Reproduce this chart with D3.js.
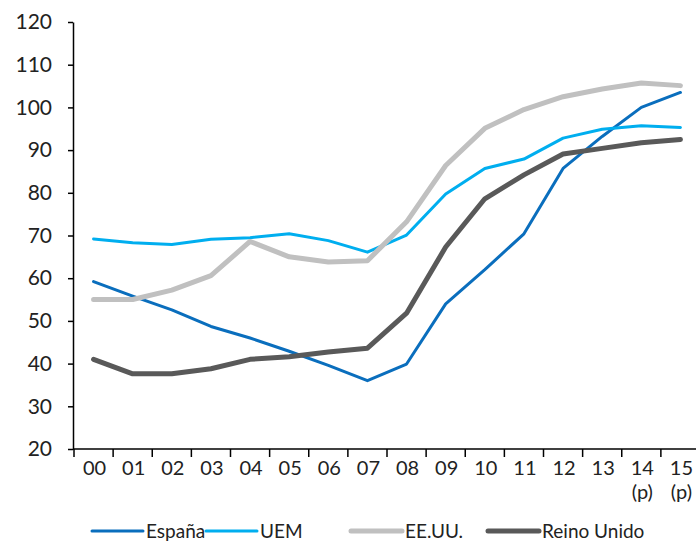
<!DOCTYPE html>
<html>
<head>
<meta charset="utf-8">
<script src="https://cdn.jsdelivr.net/npm/d3@7"></script>
<style>
  body { margin: 0; background: #fff; }
  svg text { font-family: Lato, "Open Sans", sans-serif; font-weight: 400; fill: #222; }
  .axis path, .axis line { stroke: #000; stroke-width: 1.5px; }
</style>
</head>
<body>
<div id="chart"></div>
<script>
var years = ['00','01','02','03','04','05','06','07','08','09','10','11','12','13','14','15'];
var yearNotes = ['','','','','','','','','','','','','','','(p)','(p)'];
var yTicks = [20, 30, 40, 50, 60, 70, 80, 90, 100, 110, 120];

var espana = [59.2, 55.8, 52.6, 48.7, 46.0, 42.9, 39.6, 36.0, 39.9, 54.0, 62.0, 70.4, 85.7, 93.2, 100.0, 103.5];
var uem = [69.2, 68.3, 67.9, 69.1, 69.5, 70.4, 68.8, 66.1, 70.1, 79.7, 85.7, 87.9, 92.8, 94.9, 95.7, 95.3];
var eeuu = [55.0, 55.0, 57.2, 60.6, 68.6, 65.0, 63.8, 64.1, 73.2, 86.4, 95.1, 99.5, 102.5, 104.3, 105.7, 105.1];
var reino = [41.0, 37.6, 37.6, 38.8, 41.0, 41.6, 42.7, 43.6, 51.8, 67.3, 78.6, 84.2, 89.1, 90.4, 91.7, 92.5];

var series = [
  { name: 'España', values: espana, color: '#0a6ebd', width: 3 },
  { name: 'UEM', values: uem, color: '#00aeef', width: 3 },
  { name: 'EE.UU.', values: eeuu, color: '#c0c0c0', width: 5 },
  { name: 'Reino Unido', values: reino, color: '#595959', width: 5 }
];

var svg = d3.select('#chart').append('svg')
  .attr('width', 696)
  .attr('height', 547);

var x = d3.scaleBand().domain(years).range([74, 700]).padding(0);
var y = d3.scaleLinear().domain([20, 120]).range([449, 22]);

// y axis
var yAxis = d3.axisLeft(y).tickValues(yTicks).tickSize(5).tickSizeOuter(0).tickPadding(16);
var gy = svg.append('g')
  .attr('class', 'axis')
  .attr('transform', 'translate(73,0)')
  .call(yAxis);
gy.selectAll('text').style('font-size', '21px');

// x axis, ticks at band edges
svg.append('line')
  .attr('x1', 73).attr('x2', 696)
  .attr('y1', 449).attr('y2', 449)
  .attr('stroke', '#000').attr('stroke-width', 1.5);
svg.selectAll('.xtick')
  .data(years)
  .enter().append('line')
  .attr('class', 'xtick')
  .attr('x1', function(d) { return x(d); })
  .attr('x2', function(d) { return x(d); })
  .attr('y1', 449).attr('y2', 457)
  .attr('stroke', '#000').attr('stroke-width', 1.5);
svg.selectAll('.xlabel')
  .data(years)
  .enter().append('text')
  .attr('class', 'xlabel')
  .attr('x', function(d) { return x(d) + x.bandwidth() / 2 + 1; })
  .attr('y', 475)
  .attr('text-anchor', 'middle')
  .style('font-size', '20px')
  .text(function(d) { return d; });
svg.selectAll('.xnote')
  .data(years)
  .enter().append('text')
  .attr('class', 'xnote')
  .attr('x', function(d) { return x(d) + x.bandwidth() / 2 + 1; })
  .attr('y', 499)
  .attr('text-anchor', 'middle')
  .style('font-size', '20px')
  .text(function(d, i) { return yearNotes[i]; });

// lines
var line = d3.line()
  .x(function(d, i) { return x(years[i]) + x.bandwidth() / 2; })
  .y(function(d) { return y(d); });

series.forEach(function(s) {
  svg.append('path')
    .datum(s.values)
    .attr('fill', 'none')
    .attr('stroke', s.color)
    .attr('stroke-width', s.width)
    .attr('stroke-linejoin', 'round')
    .attr('stroke-linecap', 'round')
    .attr('d', line);
});

// legend
var legendX = [92, 206, 351, 488];
var legend = svg.selectAll('.legend')
  .data(series)
  .enter().append('g')
  .attr('class', 'legend')
  .attr('transform', function(d, i) { return 'translate(' + legendX[i] + ',531)'; });
legend.append('line')
  .attr('x1', 0).attr('x2', 51)
  .attr('stroke', function(d) { return d.color; })
  .attr('stroke-width', function(d) { return d.width; })
  .attr('stroke-linecap', 'round');
legend.append('text')
  .attr('x', 54)
  .attr('y', 7)
  .style('font-size', '19px')
  .text(function(d) { return d.name; });
</script>
</body>
</html>
